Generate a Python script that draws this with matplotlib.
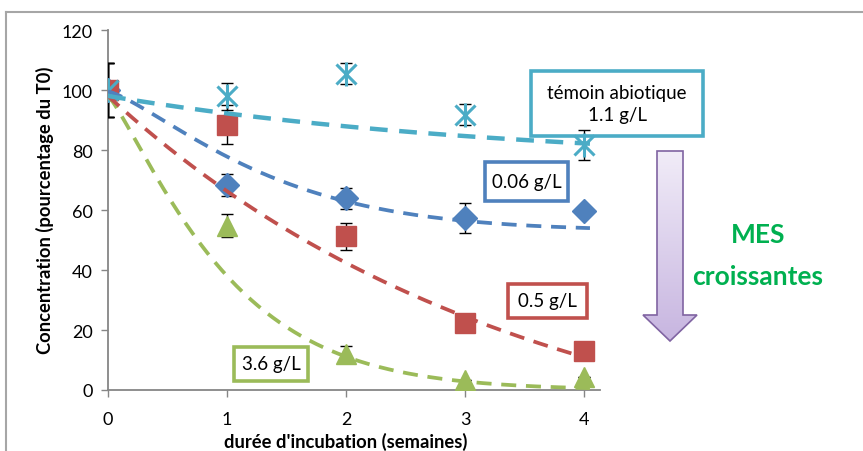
import numpy as np
import matplotlib
matplotlib.use("Agg")
import matplotlib.pyplot as plt
from matplotlib.patches import Rectangle, Polygon
from matplotlib.colors import LinearSegmentedColormap

plt.rcParams['font.family'] = ['Lato', 'DejaVu Sans']

# ---------------- data ----------------
weeks = [0, 1, 2, 3, 4]
series_names = ["0.06 g/L", "3.6 g/L", "0.5 g/L", "témoin abiotique 1.1 g/L"]
val_006 = [100, 68.4, 64.0, 57.2, 59.8]
err_006 = [9, 3.6, 3.5, 5.0, 0]
val_36 = [100, 54.8, 12.0, 3.4, 4.2]
err_36 = [9, 3.9, 2.8, 0, 0]
val_05 = [100, 88.5, 51.2, 22.3, 13.1]
err_05 = [9, 6.5, 4.6, 0, 0]
val_temoin = [100, 98.0, 105.5, 91.7, 81.8]
err_temoin = [9, 4.5, 3.5, 3.5, 5.0]

# fitted trend curves y = c + A*exp(-(k x)^p)
fit_c = [53, 0, -30, 75]
fit_A = [46.5, 98, 128, 23]
fit_k = [0.7, 0.956, 0.285, 0.29]
fit_p = [1.3, 1.2, 1.0, 1.0]

colors = ["#4F81BD", "#9BBB59", "#C0504D", "#4BACC6"]
values = [val_006, val_36, val_05, val_temoin]
errors = [err_006, err_36, err_05, err_temoin]

y_ticks = [0, 20, 40, 60, 80, 100, 120]
x_ticks = [0, 1, 2, 3, 4]
x_label = "durée d'incubation (semaines)"
y_label = "Concentration (pourcentage du T0)"

W, H = 863, 452
fig = plt.figure(figsize=(W / 100, H / 100), dpi=100)

# overlay in pixel coordinates (frame, boxes, arrow)
ov = fig.add_axes([0, 0, 1, 1], zorder=0)
ov.axis('off')

ax = fig.add_axes([108 / W, (H - 391) / H, 492 / W, 360 / H], zorder=1)
ax.patch.set_alpha(0)

gray = "#868686"
ax.set_xlim(0, 492 / 119)
ax.set_ylim(0, 120)
for s in ["top", "right"]:
    ax.spines[s].set_visible(False)
for s in ["left", "bottom"]:
    ax.spines[s].set_color(gray)
    ax.spines[s].set_linewidth(1.3)
ax.set_yticks(y_ticks)
ax.set_xticks(x_ticks)
ax.tick_params(axis='y', direction='out', length=5, width=1, color=gray,
               labelsize=13, pad=6)
ax.tick_params(axis='x', direction='out', length=5, width=1, color=gray,
               labelsize=13, pad=10)

xs = np.linspace(0, 4.05, 200)
markers = ["D", "^", "s", None]
msizes = [12, 14, 14, 14]
for i in range(4):
    ax.errorbar(weeks, values[i], yerr=errors[i], fmt='none', ecolor='black',
                elinewidth=1, capsize=4, capthick=1, zorder=3)
    if markers[i] is not None:
        ax.plot(weeks, values[i], linestyle='none', marker=markers[i],
                markersize=msizes[i], color=colors[i], zorder=4 + i * 0.1)
    else:
        ax.plot(weeks, values[i], linestyle='none', marker='x', markersize=14,
                markeredgewidth=2.2, color=colors[i], zorder=4.5)
        ax.plot(weeks, values[i], linestyle='none', marker='|', markersize=17,
                markeredgewidth=2.2, color=colors[i], zorder=4.5)
    yfit = fit_c[i] + fit_A[i] * np.exp(-(fit_k[i] * xs) ** fit_p[i])
    lw = 3.2 if i == 3 else 2.7
    ax.plot(xs, yfit, color=colors[i], linewidth=lw, dashes=(4, 2.6),
            zorder=5, solid_capstyle='butt')

# axis titles
fig.text(45 / W, 1 - 210 / H, y_label, rotation=90, ha='center', va='center',
         fontsize=13.2, fontweight='bold')
fig.text(346 / W, 1 - 451 / H, x_label, ha='center', va='bottom',
         fontsize=13.2, fontweight='bold')

# frame of the document
ov.plot([5.5, 5.5], [12.5, H], color="#A6A6A6", lw=1.5)
ov.plot([5.5, W], [12.5, 12.5], color="#A6A6A6", lw=1.5)

# label boxes
boxes = [
    (485, 163, 568, 202, colors[0], "0.06 g/L"),
    (234, 348, 308, 382, colors[1], "3.6 g/L"),
    (508, 285, 587, 319, colors[2], "0.5 g/L"),
    (531, 72, 703, 137, colors[3], "témoin abiotique\n1.1 g/L"),
]
for (x0, y0, x1, y1, c, t) in boxes:
    ov.add_patch(Rectangle((x0, y0), x1 - x0, y1 - y0, fill=False,
                           edgecolor=c, linewidth=2.6))
    ov.text((x0 + x1) / 2, (y0 + y1) / 2, t, ha='center', va='center',
            fontsize=13.5, color='black', linespacing=1.3)

# gradient arrow
verts = [(657, 152), (683, 152), (683, 316), (697, 316), (670, 342),
         (643, 316), (657, 316)]
poly = Polygon(verts, closed=True, facecolor='none', edgecolor="#8064A2",
               linewidth=1.2, zorder=3)
ov.add_patch(poly)
grad = np.linspace(0, 1, 256).reshape(-1, 1)
cmap = LinearSegmentedColormap.from_list("arr", ["#F1ECF8", "#C7B5E0"])
im = ov.imshow(grad, cmap=cmap, extent=(643, 697, 342, 152), aspect='auto',
               zorder=2)
im.set_clip_path(poly)
ov.set_xlim(0, W)
ov.set_ylim(H, 0)

ov.text(758, 235, "MES", ha='center', va='center', fontsize=19,
        fontweight='bold', color="#00B050")
ov.text(758, 277, "croissantes", ha='center', va='center', fontsize=19,
        fontweight='bold', color="#00B050")

fig.savefig("out.png", dpi=100)
